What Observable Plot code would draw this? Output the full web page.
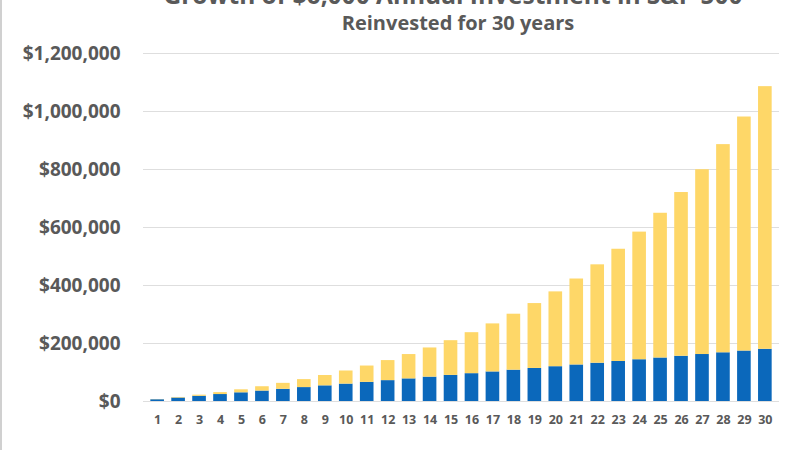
<!DOCTYPE html>
<html>
<head>
<meta charset="utf-8">
<script src="https://cdn.jsdelivr.net/npm/d3@7"></script>
<script src="https://cdn.jsdelivr.net/npm/@observablehq/plot@0.6"></script>
<style>
  html, body { margin: 0; padding: 0; background: #fff; }
  #wrap { position: relative; width: 800px; height: 450px; overflow: hidden; background: #fff; border-left: 2px solid #d0d0d0; box-sizing: border-box; }
  #title { position: absolute; left: 0; width: 902px; top: -22px; text-align: center; font: bold 24.5px "Open Sans", sans-serif; color: #595959; white-space: nowrap; }
  #subtitle { position: absolute; left: 0; width: 912px; top: 9px; text-align: center; font: bold 20px "Open Sans", sans-serif; color: #595959; }
  #chart { position: absolute; left: -2px; top: 40px; }
</style>
</head>
<body>
<div id="wrap">
  <div id="title">Growth of $6,000 Annual Investment in S&amp;P 500</div>
  <div id="subtitle">Reinvested for 30 years</div>
  <div id="chart"></div>
</div>
<script>
// Year of investment
const years = [1,2,3,4,5,6,7,8,9,10,11,12,13,14,15,16,17,18,19,20,21,22,23,24,25,26,27,28,29,30];

// Cumulative amount contributed ($6,000 per year)
const contributed = [6000,12000,18000,24000,30000,36000,42000,48000,54000,60000,
  66000,72000,78000,84000,90000,96000,102000,108000,114000,120000,
  126000,132000,138000,144000,150000,156000,162000,168000,174000,180000];

// Total portfolio value at the end of each year
const totalValue = [6600,13900,21800,30600,40300,50900,62600,75500,89600,105200,
  122300,141100,161900,184600,209700,237300,267600,301000,337700,378000,
  422400,471300,525000,584100,649100,720600,799300,885800,981000,1085700];

const yTicks = [0,200000,400000,600000,800000,1000000,1200000];

const rows = [];
years.forEach((yr, i) => {
  rows.push({year: yr, part: "Contributions", value: contributed[i]});
  rows.push({year: yr, part: "Growth", value: totalValue[i] - contributed[i]});
});

const fmt = d3.format("$,.0f");

const chart = Plot.plot({
  width: 800,
  height: 410,
  marginTop: 13,
  marginBottom: 49,
  marginLeft: 143,
  marginRight: 21,
  style: { fontFamily: "'Open Sans', sans-serif", color: "#595959", background: "transparent" },
  x: { type: "band", domain: years, padding: 0.35, round: false, axis: null },
  y: { domain: [0, 1200000], axis: null },
  color: { domain: ["Contributions", "Growth"], range: ["#0b68bb", "#fed768"] },
  marks: [
    Plot.ruleY(yTicks, { stroke: "#dedede", strokeWidth: 1.2 }),
    Plot.barY(rows, { x: "year", y: "value", fill: "part" }),
    // value axis labels
    Plot.text(yTicks, { y: d => d, text: d => fmt(d), frameAnchor: "left", textAnchor: "end", dx: -23,
      fontSize: 19, fontWeight: "bold", fill: "#595959" }),
    // year labels
    Plot.text(years, { x: d => d, text: d => String(d), frameAnchor: "bottom", lineAnchor: "middle", dy: 18,
      fontSize: 12.5, fontWeight: "bold", fill: "#595959" })
  ]
});

document.getElementById("chart").appendChild(chart);
</script>
</body>
</html>
